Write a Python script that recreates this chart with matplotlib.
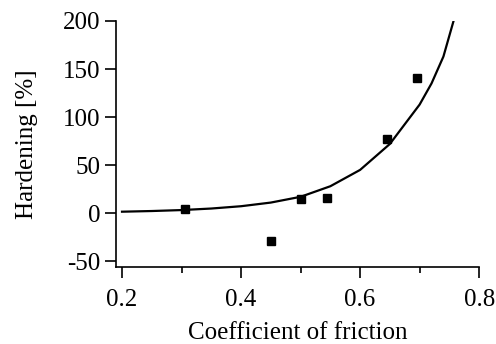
import matplotlib
matplotlib.use("Agg")
import matplotlib.pyplot as plt
from matplotlib.ticker import MultipleLocator

# measured points
friction = [0.305, 0.45, 0.50, 0.545, 0.645, 0.695]
hardening = [4, -29, 15, 16, 77, 141]

# fitted curve
fit_x = [0.20, 0.25, 0.30, 0.35, 0.40, 0.45, 0.50, 0.55, 0.60, 0.65, 0.70, 0.72, 0.74, 0.757]
fit_y = [1.5, 2.2, 3.2, 4.8, 7.2, 11, 17, 28, 45, 72, 113, 135, 163, 200]

plt.rcParams.update({
    "font.family": "Liberation Serif",
    "font.size": 18,
    "axes.unicode_minus": False,
})

fig = plt.figure(figsize=(4.96, 3.44), dpi=100)
ax = fig.add_axes([0.234, 0.224, 0.732, 0.715])

ax.plot(fit_x, fit_y, color="black", linewidth=1.6)
ax.plot(friction, hardening, linestyle="none", marker="s", markersize=6,
        color="black")

ax.set_xlim(0.19, 0.8)
ax.set_ylim(-56, 200)
ax.xaxis.set_minor_locator(MultipleLocator(0.1))
ax.yaxis.set_major_locator(MultipleLocator(50))
ax.set_xticks([0.2, 0.4, 0.6, 0.8])
ax.set_xticklabels(["0.2", "0.4", "0.6", "0.8"])

for side in ("top", "right"):
    ax.spines[side].set_visible(False)
for side in ("left", "bottom"):
    ax.spines[side].set_linewidth(1.2)
ax.spines["bottom"].set_bounds(0.19, 0.8)

ax.tick_params(which="major", direction="out", length=8, width=1.2)
ax.tick_params(axis="x", which="major", pad=8)
ax.tick_params(axis="y", which="major", pad=3)
ax.tick_params(which="minor", direction="out", length=4, width=1.2)

ax.set_xlabel("Coefficient of friction", labelpad=8)
ax.set_ylabel("Hardening [%]", labelpad=18)

fig.savefig("out.png", dpi=100)
